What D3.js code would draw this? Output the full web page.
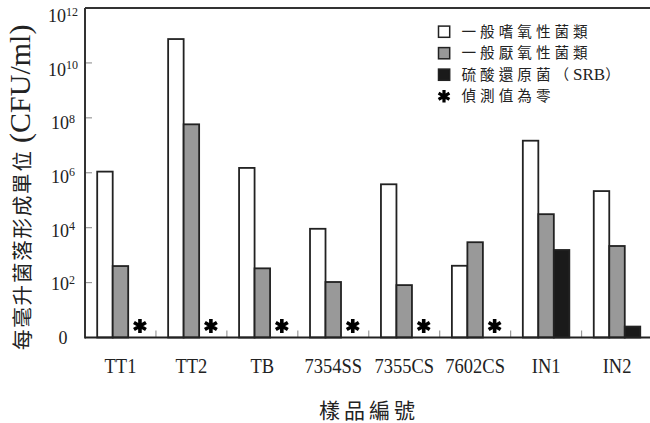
<!DOCTYPE html>
<html>
<head>
<meta charset="utf-8">
<script src="https://cdn.jsdelivr.net/npm/d3@7"></script>
<style>
  html, body { margin: 0; padding: 0; background: #fff; }
  svg { display: block; }
</style>
</head>
<body>
<svg id="chart" width="650" height="423"></svg>
<script>
// Sample IDs along the x axis
const samples = ["TT1", "TT2", "TB", "7354SS", "7355CS", "7602CS", "IN1", "IN2"];

// Colony counts (CFU/ml) per group; 0 means nothing was detected
const aerobic   = [1.1e6, 7.4e10, 1.5e6, 9100, 3.8e5, 410, 1.47e7, 2.15e5];
const anaerobic = [400, 5.8e7, 330, 105, 81, 2950, 3.1e4, 2150];
const srb       = [0, 0, 0, 0, 0, 0, 1540, 2.5];

const seriesNames = ["一般嗜氧性菌類", "一般厭氧性菌類", "硫酸還原菌（SRB）"];
const seriesColors = ["#ffffff", "#999999", "#1a1a1a"];
const zeroLabel = "偵測值為零";

// Log-axis tick exponents (the bottom one is printed as "0")
const tickExponents = [0, 2, 4, 6, 8, 10, 12];

(function draw() {
  const svg = d3.select("#chart");
  const plotLeft = 85, plotRight = 652.5, plotTop = 8, plotBottom = 337.5;

  const x = d3.scaleBand().domain(samples).range([plotLeft, plotRight]).padding(0);
  const sub = d3.scaleBand().domain(d3.range(3)).range([12.2, 58.7]).padding(0);
  const y = d3.scaleLog().domain([1, 1e12]).range([plotBottom, plotTop]);
  // tick labels sit on a slightly compressed copy of the value scale
  const yLabel = d3.scaleLog().domain([1, 1e12]).range([plotBottom, 16]);

  const table = samples.map((s, i) => ({ sample: s, values: [aerobic[i], anaerobic[i], srb[i]] }));

  // y-axis ticks (drawn inward)
  svg.append("g").selectAll("line")
    .data(tickExponents.filter(e => e > 0 && e < 12))
    .join("line")
    .attr("x1", plotLeft).attr("x2", plotLeft + 7)
    .attr("y1", e => y(Math.pow(10, e))).attr("y2", e => y(Math.pow(10, e)))
    .attr("stroke", "#9a9a9a").attr("stroke-width", 1.2);

  // x-axis category separators
  svg.append("g").selectAll("line")
    .data(samples.slice(1))
    .join("line")
    .attr("x1", d => x(d)).attr("x2", d => x(d))
    .attr("y1", plotBottom).attr("y2", plotBottom - 7)
    .attr("stroke", "#9a9a9a").attr("stroke-width", 1.2);

  // bars
  const groups = svg.append("g").selectAll("g")
    .data(table).join("g")
    .attr("transform", d => `translate(${x(d.sample)},0)`);

  groups.selectAll("rect")
    .data(d => d.values.map((v, k) => ({ v, k })).filter(o => o.v > 0))
    .join("rect")
    .attr("x", o => sub(o.k))
    .attr("width", sub.bandwidth())
    .attr("y", o => y(o.v))
    .attr("height", o => plotBottom - y(o.v))
    .attr("fill", o => seriesColors[o.k])
    .attr("stroke", "#222")
    .attr("stroke-width", 1.8);

  // asterisks marking a zero reading
  const star = d3.symbol().type(d3.symbolAsterisk).size(135);
  groups.selectAll("path.zero")
    .data(d => d.values.map((v, k) => ({ v, k })).filter(o => o.v === 0))
    .join("path")
    .attr("class", "zero")
    .attr("d", star)
    .attr("transform", o => `translate(${sub(o.k) + sub.bandwidth() / 2 + 4},326)`)
    .attr("fill", "none").attr("stroke", "#000").attr("stroke-width", 3.6);

  // frame: left axis, top line, baseline
  svg.append("line").attr("x1", plotLeft).attr("x2", plotLeft).attr("y1", plotTop).attr("y2", plotBottom + 1)
    .attr("stroke", "#333").attr("stroke-width", 2);
  svg.append("line").attr("x1", plotLeft).attr("x2", 650).attr("y1", plotTop).attr("y2", plotTop)
    .attr("stroke", "#333").attr("stroke-width", 2);
  svg.append("line").attr("x1", plotLeft).attr("x2", 650).attr("y1", plotBottom).attr("y2", plotBottom)
    .attr("stroke", "#222").attr("stroke-width", 2);

  // y tick labels: 0, 10², 10⁴ ...
  const yl = svg.append("g")
    .attr("font-family", "'Liberation Serif', 'Times New Roman', serif")
    .attr("fill", "#222");
  tickExponents.forEach(e => {
    const t = yl.append("text")
      .attr("x", 63)
      .attr("y", yLabel(Math.pow(10, e)))
      .attr("dy", "0.35em")
      .attr("text-anchor", "middle")
      .attr("font-size", 18);
    if (e === 0) {
      t.text("0");
    } else {
      t.append("tspan").text("10");
      t.append("tspan").attr("font-size", 12).attr("dy", "-0.55em").text(e);
    }
  });

  // x tick labels
  svg.append("g").selectAll("text")
    .data(samples).join("text")
    .attr("transform", d => `translate(${x(d) + x.bandwidth() / 2},372.5) scale(1,1.1)`)
    .attr("text-anchor", "middle")
    .attr("font-family", "'Liberation Serif', 'Times New Roman', serif")
    .attr("font-size", 18.5)
    .attr("fill", "#222")
    .text(d => d);

  // x-axis title
  svg.append("text")
    .attr("x", 369).attr("y", 418)
    .attr("text-anchor", "middle")
    .attr("font-family", "'Noto Sans CJK TC', sans-serif")
    .attr("font-size", 21)
    .attr("letter-spacing", 4)
    .attr("fill", "#222")
    .text("樣品編號");

  // y-axis title
  const yt = svg.append("text")
    .attr("transform", "translate(30,350) rotate(-90)")
    .attr("text-anchor", "start")
    .attr("fill", "#222");
  yt.append("tspan")
    .attr("font-family", "'Noto Sans CJK TC', sans-serif")
    .attr("font-size", 20.5)
    .attr("letter-spacing", 1.8)
    .text("每毫升菌落形成單位 ");
  yt.append("tspan")
    .attr("font-family", "'Liberation Serif', 'Times New Roman', serif")
    .attr("font-size", 30)
    .text("(CFU/ml)");

  // legend
  const legend = svg.append("g").attr("fill", "#222");
  const rowY = [31.7, 53.2, 74.7, 96.2];
  seriesNames.forEach((name, k) => {
    legend.append("rect")
      .attr("x", 438.5).attr("y", rowY[k] - 5.6)
      .attr("width", 11.2).attr("height", 11.2)
      .attr("fill", seriesColors[k]).attr("stroke", "#222").attr("stroke-width", 1.5);
    const t = legend.append("text")
      .attr("x", 461.5).attr("y", rowY[k]).attr("dy", "0.36em")
      .attr("font-family", "'Noto Sans CJK TC', sans-serif")
      .attr("font-size", 14.6)
      .attr("letter-spacing", 4);
    const m = name.match(/^(.*（)(SRB)(）)$/);
    if (m) {
      t.append("tspan").text(m[1]);
      t.append("tspan").attr("font-family", "'Liberation Serif', serif")
        .attr("font-size", 17).attr("letter-spacing", 0).text(m[2]);
      t.append("tspan").text(m[3]);
    } else {
      t.text(name);
    }
  });
  legend.append("path")
    .attr("d", d3.symbol().type(d3.symbolAsterisk).size(110)())
    .attr("transform", `translate(444,${rowY[3]})`)
    .attr("fill", "none").attr("stroke", "#000").attr("stroke-width", 3.2);
  legend.append("text")
    .attr("x", 461.5).attr("y", rowY[3]).attr("dy", "0.36em")
    .attr("font-family", "'Noto Sans CJK TC', sans-serif")
    .attr("font-size", 14.6)
    .attr("letter-spacing", 4)
    .text(zeroLabel);
})();
</script>
</body>
</html>
